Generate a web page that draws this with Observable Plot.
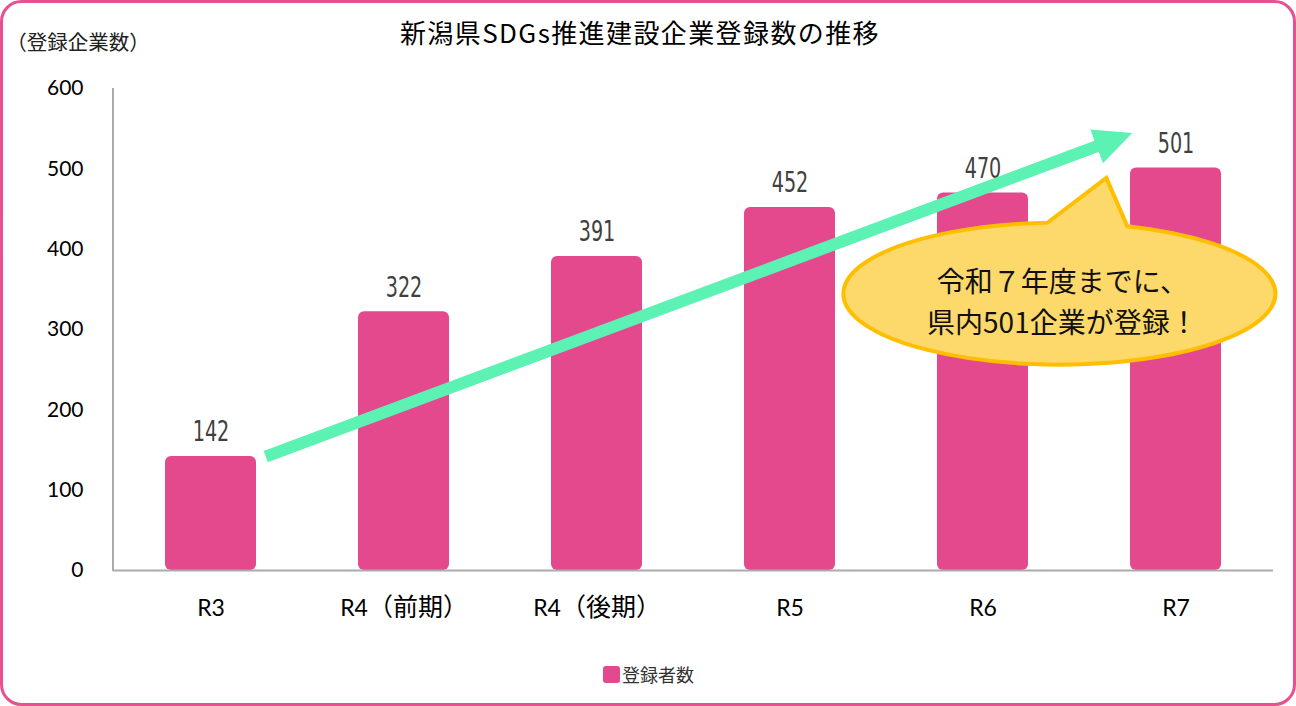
<!DOCTYPE html>
<html>
<head>
<meta charset="utf-8">
<script src="https://cdn.jsdelivr.net/npm/d3@7"></script>
<script src="https://cdn.jsdelivr.net/npm/@observablehq/plot@0.6"></script>
<style>
  html, body { margin: 0; padding: 0; background: #fff; }
  #chart svg { display: block; }
</style>
</head>
<body>
<div id="chart"></div>
<script>
// ---- data ----
const categories = ["R3", "R4（前期）", "R4（後期）", "R5", "R6", "R7"];
const counts = [142, 322, 391, 452, 470, 501];
const yTicks = [0, 100, 200, 300, 400, 500, 600];
const titleText = "新潟県SDGs推進建設企業登録数の推移";
const yLabelText = "（登録企業数）";
const seriesName = "登録者数";
const calloutLines = ["令和７年度までに、", "県内501企業が登録！"];
// annotation anchors in data terms: category + fraction of a band step, value
const arrowFrom = {category: "R3", offset: 0.29, value: 141};
const arrowTo = {category: "R6", offset: 0.772, value: 544};
const calloutCenter = {category: "R6", offset: 0.395, value: 344};
const calloutTip = {category: "R6", offset: 0.638, value: 488};

const data = categories.map((c, i) => ({category: c, count: counts[i]}));

const barColor = "#e4498e";
const frameColor = "#e8508f";

const chart = Plot.plot({
  width: 1296,
  height: 706,
  marginTop: 88,
  marginBottom: 136,
  marginLeft: 113,
  marginRight: 23,
  style: {
    fontFamily: "Lato, 'Noto Sans CJK JP', sans-serif",
    fontSize: "21px",
    color: "#000",
    background: "transparent"
  },
  x: {domain: categories, paddingInner: 0.53, paddingOuter: 0.265, label: null, tickSize: 0, tickPadding: 29},
  y: {domain: [0, 600], ticks: yTicks, label: null, tickSize: 0, tickPadding: 30},
  marks: [
    Plot.barY(data, {x: "category", y: "count", fill: barColor, rx: 6}),
    Plot.ruleY([0], {stroke: "#ababab", strokeWidth: 2}),
    Plot.text(data, {
      x: "category", y: "count", text: d => String(d.count),
      dy: -24, fontSize: 28,
      fontFamily: "'DejaVu Sans', sans-serif",
      fill: "#404040"
    })
  ]
});

document.getElementById("chart").appendChild(chart);

const svg = d3.select(chart);
const W = 1296, H = 706;

// scales rebuilt from Plot's own scale descriptors
const xs = chart.scale("x"), ys = chart.scale("y");
const band = d3.scaleBand(xs.domain, xs.range)
  .paddingInner(xs.paddingInner ?? 0.53)
  .paddingOuter(xs.paddingOuter ?? 0.265)
  .align(xs.align ?? 0.5);
const yScale = d3.scaleLinear(ys.domain, ys.range);
const px = a => band(a.category) + band.bandwidth() / 2 + a.offset * band.step();
const py = a => yScale(a.value);

// outer rounded frame (behind everything)
svg.insert("rect", ":first-child")
  .attr("x", 1.5).attr("y", 1.5).attr("width", W - 3).attr("height", H - 3)
  .attr("rx", 20).attr("fill", "#fff").attr("stroke", frameColor).attr("stroke-width", 3);

// y axis line
svg.append("line")
  .attr("x1", xs.range[0]).attr("x2", xs.range[0])
  .attr("y1", yScale(600)).attr("y2", yScale(0) + 1)
  .attr("stroke", "#ababab").attr("stroke-width", 2);

// value labels: narrow (condensed) look
svg.selectAll("text").each(function() {
  const t = this.textContent;
  if (/^\d+$/.test(t) && counts.includes(+t)) {
    d3.select(this)
      .attr("textLength", 12.2 * t.length)
      .attr("lengthAdjust", "spacingAndGlyphs");
  }
});

// tick labels: larger type, larger CJK part
svg.selectAll("text").each(function() {
  const t = this.textContent;
  if (categories.includes(t)) {
    const sel = d3.select(this);
    sel.style("font-size", "23px");
    if (t.includes("（")) {
      const i = t.indexOf("（");
      sel.text(null);
      sel.append("tspan").text(t.slice(0, i));
      sel.append("tspan").style("font-size", "25px").style("font-family", "'Noto Sans CJK JP'").text(t.slice(i));
    }
  }
});

// title
svg.append("text")
  .attr("x", 640).attr("y", 31)
  .attr("text-anchor", "middle").attr("dominant-baseline", "central")
  .attr("font-family", "'Noto Sans CJK JP', sans-serif").attr("font-size", 26)
  .attr("letter-spacing", 1.4).attr("fill", "#000")
  .text(titleText);

// y label
svg.append("text")
  .attr("x", 78).attr("y", 41)
  .attr("text-anchor", "middle").attr("dominant-baseline", "central")
  .attr("font-family", "'Noto Sans CJK JP', sans-serif").attr("font-size", 20.5)
  .attr("fill", "#222")
  .text(yLabelText);

// arrow
{
  const x1 = px(arrowFrom), y1 = py(arrowFrom);
  const x2 = px(arrowTo), y2 = py(arrowTo);
  const dx = x2 - x1, dy = y2 - y1, len = Math.hypot(dx, dy);
  const ux = dx / len, uy = dy / len;
  const headLen = 38, headHalf = 18;
  const bx = x2 - ux * headLen, by = y2 - uy * headLen;
  svg.append("line")
    .attr("x1", x1).attr("y1", y1).attr("x2", bx + ux * 2).attr("y2", by + uy * 2)
    .attr("stroke", "#5cf2b4").attr("stroke-width", 12);
  svg.append("path")
    .attr("d", `M${x2},${y2}L${bx - uy * headHalf},${by + ux * headHalf}L${bx + uy * headHalf},${by - ux * headHalf}Z`)
    .attr("fill", "#5cf2b4");
}

// callout bubble
{
  const cx = px(calloutCenter), cy = py(calloutCenter);
  const rx = 216, ry = 71;
  const tx = px(calloutTip), ty = py(calloutTip);
  const ptOn = ddx => [cx + ddx, cy - ry * Math.sqrt(1 - (ddx / rx) ** 2)];
  const A = ptOn(-12), B = ptOn(68);
  svg.append("path")
    .attr("d", `M${A[0]},${A[1]}L${tx},${ty}L${B[0]},${B[1]}A${rx},${ry} 0 1 1 ${A[0]},${A[1]}Z`)
    .attr("fill", "#fdd86a").attr("stroke", "#ffbf00").attr("stroke-width", 4)
    .attr("stroke-linejoin", "miter");
  calloutLines.forEach((line, i) => {
    svg.append("text")
      .attr("x", cx + 3).attr("y", cy - 14 + i * 41)
      .attr("text-anchor", "middle").attr("dominant-baseline", "central")
      .attr("font-family", "'Noto Sans CJK JP', sans-serif").attr("font-size", 28)
      .attr("fill", "#111")
      .text(line);
  });
}

// legend
svg.append("rect")
  .attr("x", 603).attr("y", 666).attr("width", 17).attr("height", 17).attr("rx", 3)
  .attr("fill", barColor);
svg.append("text")
  .attr("x", 622).attr("y", 674)
  .attr("text-anchor", "start").attr("dominant-baseline", "central")
  .attr("font-family", "'Noto Sans CJK JP', sans-serif").attr("font-size", 18)
  .attr("fill", "#333")
  .text(seriesName);
</script>
</body>
</html>
